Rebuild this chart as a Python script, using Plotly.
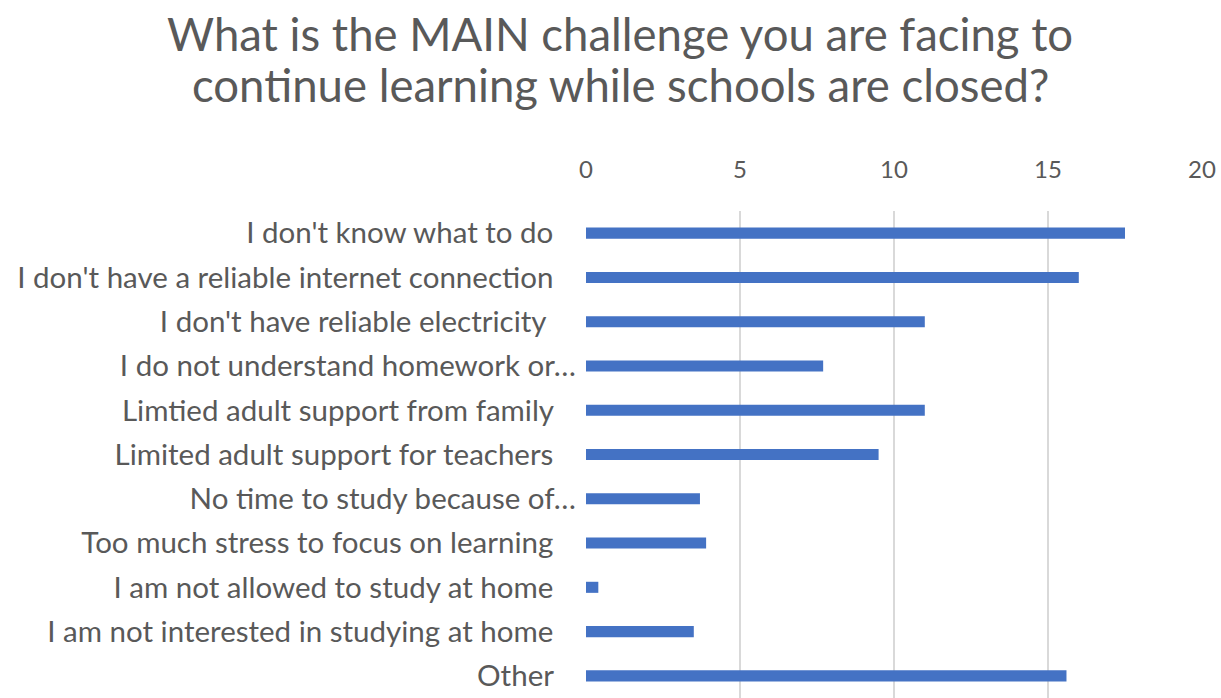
import plotly.graph_objects as go

categories = [
    "I don't know what to do",
    "I don't have a reliable internet connection",
    "I don't have reliable electricity",
    "I do not understand homework or…",
    "Limtied adult support from family",
    "Limited adult support for teachers",
    "No time to study because of…",
    "Too much stress to focus on learning",
    "I am not allowed to study at home",
    "I am not interested in studying at home",
    "Other",
]
values = [17.5, 16, 11, 7.7, 11, 9.5, 3.7, 3.9, 0.4, 3.5, 15.6]
# trailing whitespace padding, as in the original labels
NB = "\u00a0"
pad_counts = [3, 3, 4, 0, 3, 3, 0, 3, 3, 3, 3]
tick_labels = [c + NB * n for c, n in zip(categories, pad_counts)]
x_ticks = [0, 5, 10, 15, 20]

title_lines = [
    "What is the MAIN challenge you are facing to",
    "continue learning while schools are closed?",
]

W, H = 1221, 698
L, R, T, B = 586, 19, 211, 0
plot_w = W - L - R
plot_h = H - T - B

def px_to_paper_y(page_y):
    return (H - B - page_y) / plot_h

def px_to_paper_x(page_x):
    return (page_x - L) / plot_w

fig = go.Figure(go.Bar(
    x=values, y=categories, orientation="h",
    marker=dict(color="#4472C4", line=dict(width=0)),
    width=0.25,
))

annotations = []
for line, py in zip(title_lines, [33, 84]):
    annotations.append(dict(
        text=line, xref="paper", yref="paper",
        x=px_to_paper_x(620), y=px_to_paper_y(py),
        xanchor="center", yanchor="middle", showarrow=False,
        font=dict(family="Lato", size=45.5, color="#595959"),
    ))

fig.update_layout(
    width=W, height=H,
    margin=dict(l=L, r=R, t=T, b=B, autoexpand=False),
    paper_bgcolor="white", plot_bgcolor="white",
    font=dict(family="Lato", color="#595959"),
    annotations=annotations,
    showlegend=False,
)
fig.update_xaxes(
    side="top", range=[0, 20], tickvals=x_ticks, ticktext=[str(t) for t in x_ticks],
    showgrid=True, gridcolor="#d9d9d9", gridwidth=1.5, zeroline=False,
    showline=False, ticks="", tickfont=dict(size=24, color="#595959"),
    ticklabelstandoff=27,
)
fig.update_yaxes(
    autorange="reversed", tickvals=categories, ticktext=tick_labels,
    showgrid=False, showline=False, ticks="", zeroline=False,
    tickfont=dict(size=29.5, color="#595959"), ticklabelstandoff=9,
)

fig.write_html("out.html", config={"displayModeBar": False},
               post_script="document.body.style.margin='0';")
